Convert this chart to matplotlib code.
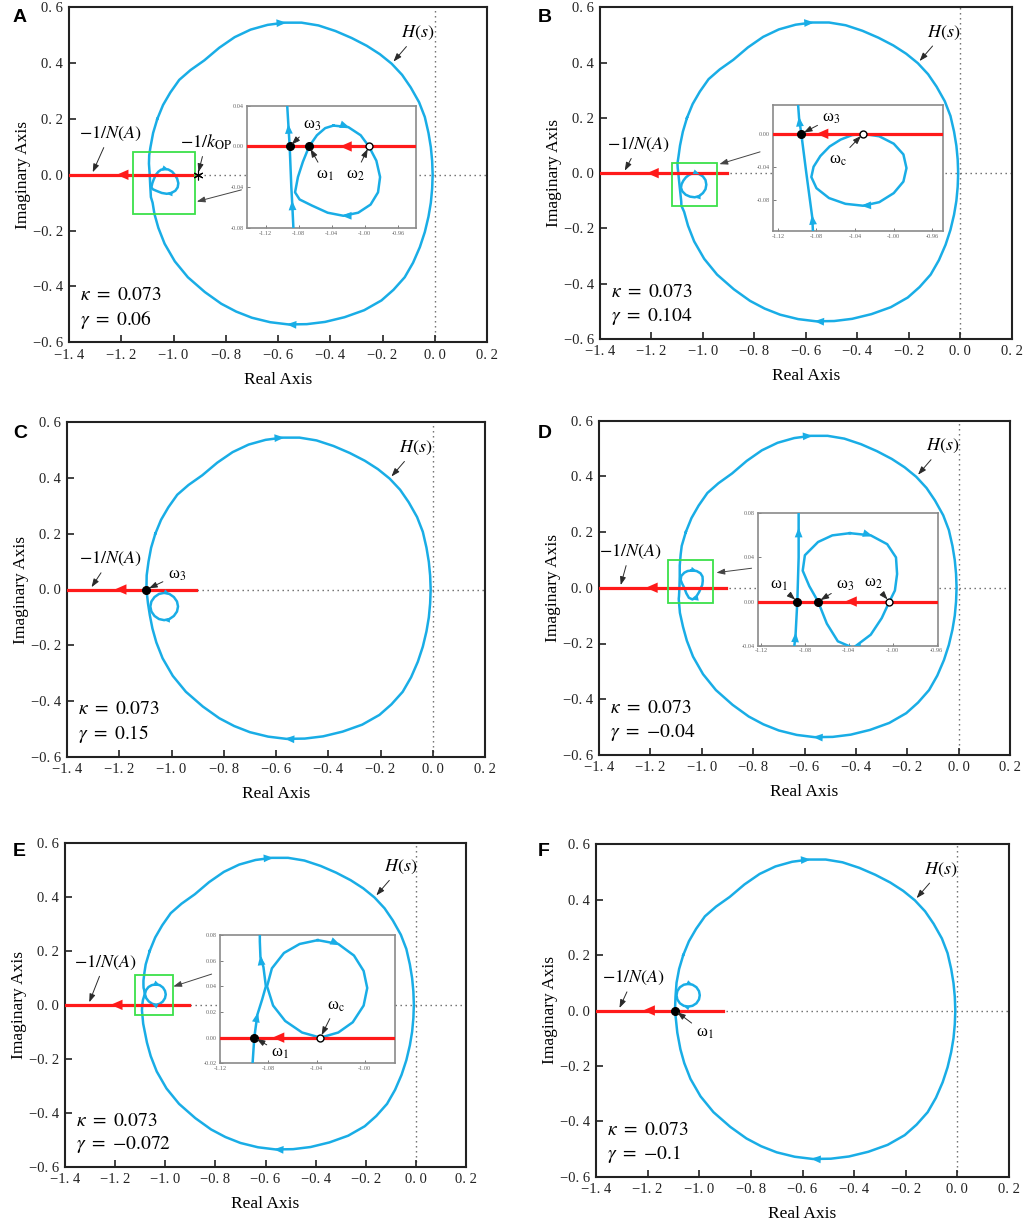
import matplotlib
matplotlib.use("Agg")
import matplotlib.pyplot as plt
from matplotlib.patches import Rectangle, FancyArrowPatch

plt.rcParams['font.family'] = 'Liberation Serif'
plt.rcParams['mathtext.fontset'] = 'stix'
plt.rcParams['axes.unicode_minus'] = True

# ======================= DATA =======================
panel_ids = ['A', 'B', 'C', 'D', 'E', 'F']
kappa_vals = [0.073, 0.073, 0.073, 0.073, 0.073, 0.073]
gamma_vals = ['0.06', '0.104', '0.15', '-0.04', '-0.072', '-0.1']

x_ticks = [-1.4, -1.2, -1.0, -0.8, -0.6, -0.4, -0.2, 0.0, 0.2]
x_tick_labels = ['\u22121. 4', '\u22121. 2', '\u22121. 0', '\u22120. 8', '\u22120. 6',
                 '\u22120. 4', '\u22120. 2', '0. 0', '0. 2']
y_ticks = [-0.6, -0.4, -0.2, 0.0, 0.2, 0.4, 0.6]
y_tick_labels = ['\u22120. 6', '\u22120. 4', '\u22120. 2', '0. 0', '0. 2', '0. 4', '0. 6']

# outer branch of H(s) (shared by all panels), clockwise from upper-left
outer_re = [-1.062, -1.040, -1.012, -0.978, -0.935, -0.882, -0.825, -0.766, -0.705, -0.640,
            -0.575, -0.510, -0.445, -0.380, -0.318, -0.260, -0.210, -0.165, -0.125, -0.092,
            -0.060, -0.038, -0.024, -0.015, -0.010, -0.008, -0.010, -0.015, -0.024, -0.038,
            -0.057, -0.083, -0.115, -0.158, -0.204, -0.270, -0.345, -0.420, -0.490, -0.560,
            -0.630, -0.700, -0.760, -0.817, -0.880, -0.945, -0.995, -1.034, -1.058]
outer_im = [0.200, 0.250, 0.295, 0.340, 0.375, 0.410, 0.455, 0.493, 0.520, 0.537,
            0.545, 0.545, 0.535, 0.515, 0.490, 0.462, 0.432, 0.398, 0.358, 0.313,
            0.260, 0.207, 0.150, 0.099, 0.050, 0.000, -0.050, -0.100, -0.150, -0.205,
            -0.259, -0.315, -0.367, -0.412, -0.450, -0.485, -0.510, -0.527, -0.535, -0.536,
            -0.528, -0.512, -0.490, -0.462, -0.420, -0.367, -0.310, -0.247, -0.190]

# describing-function locus -1/N(A) and -1/k_OP
dfn_re = [-0.907, -1.40]
dfn_im = [0.0, 0.0]
kop_re = [-0.907]
kop_im = [0.0]

# near-critical part of H(s) for each panel (bottom -> top)
left_A_re = [-1.073, -1.080, -1.0865, -1.088, -1.089, -1.091, -1.0925, -1.094, -1.093, -1.088, -1.078]
left_A_im = [-0.14, -0.10, -0.08, -0.055, -0.04, 0.0, 0.02, 0.04, 0.07, 0.10, 0.15]
left_B_re = [-1.073, -1.0837, -1.0843, -1.0905, -1.0957, -1.098, -1.099, -1.095, -1.089, -1.078]
left_B_im = [-0.14, -0.1176, -0.102, -0.0477, 0.0, 0.019, 0.035, 0.06, 0.10, 0.15]
left_C_re = [-1.073, -1.083, -1.090, -1.096, -1.095, -1.088, -1.078]
left_C_im = [-0.14, -0.092, -0.05, 0.0, 0.051, 0.10, 0.15]
left_D_re = [-1.073, -1.085, -1.0896, -1.0885, -1.0869, -1.0857, -1.0857, -1.0857, -1.082, -1.078]
left_D_im = [-0.14, -0.09, -0.04, -0.03, 0.0, 0.04, 0.065, 0.08, 0.12, 0.15]
left_E_re = [-1.073, -1.088, -1.093, -1.0916, -1.089, -1.085, -1.082, -1.084, -1.0865, -1.087, -1.087, -1.083, -1.078]
left_E_im = [-0.14, -0.07, -0.02, 0.0, 0.018, 0.03, 0.04, 0.055, 0.063, 0.075, 0.09, 0.12, 0.15]
left_F_re = [-1.073, -1.085, -1.094, -1.092, -1.088, -1.078]
left_F_im = [-0.14, -0.08, 0.0, 0.05, 0.10, 0.15]

# small loops of H(s) (clockwise, from the top)
loop_A_re = [-1.038, -1.020, -1.005, -0.995, -0.986, -0.9815, -0.984, -0.993, -1.008, -1.026,
             -1.045, -1.064, -1.079, -1.0845, -1.081, -1.075, -1.0675, -1.058, -1.048, -1.038]
loop_A_im = [0.0205, 0.019, 0.011, 0.0, -0.014, -0.030, -0.045, -0.057, -0.065, -0.068,
             -0.065, -0.058, -0.052, -0.045, -0.030, -0.015, 0.0, 0.011, 0.018, 0.0205]
loop_B_re = [-1.0318, -1.015, -1.000, -0.990, -0.9868, -0.990, -1.000, -1.015, -1.0318, -1.050,
             -1.067, -1.080, -1.0853, -1.083, -1.076, -1.0664, -1.055, -1.043, -1.0318]
loop_B_im = [0.0, -0.003, -0.012, -0.025, -0.0416, -0.058, -0.072, -0.083, -0.0873, -0.085,
             -0.078, -0.066, -0.0525, -0.040, -0.027, -0.0154, -0.007, -0.0015, 0.0]
loop_C_re = [-1.028, -1.008, -0.991, -0.979, -0.975, -0.979, -0.991, -1.008, -1.028,
             -1.048, -1.065, -1.077, -1.081, -1.077, -1.065, -1.048, -1.028]
loop_C_im = [-0.012, -0.016, -0.027, -0.043, -0.061, -0.079, -0.095, -0.106, -0.110,
             -0.106, -0.095, -0.079, -0.061, -0.043, -0.027, -0.016, -0.012]
loop_D_re = [-1.039, -1.020, -1.005, -0.997, -0.996, -0.998, -1.003, -1.010, -1.020, -1.036,
             -1.050, -1.060, -1.068, -1.076, -1.082, -1.080, -1.068, -1.055, -1.039]
loop_D_im = [0.062, 0.060, 0.052, 0.040, 0.025, 0.010, 0.0, -0.015, -0.030, -0.042,
             -0.036, -0.020, 0.0, 0.014, 0.028, 0.042, 0.054, 0.060, 0.062]
loop_E_re = [-1.039, -1.022, -1.009, -1.001, -0.998, -1.001, -1.010, -1.022, -1.0368,
             -1.052, -1.066, -1.076, -1.081, -1.077, -1.067, -1.054, -1.039]
loop_E_im = [0.076, 0.073, 0.064, 0.052, 0.0387, 0.025, 0.012, 0.004, 0.0,
             0.004, 0.013, 0.025, 0.040, 0.054, 0.066, 0.073, 0.076]
loop_F_re = [-1.043, -1.026, -1.011, -1.001, -0.998, -1.001, -1.011, -1.026, -1.043,
             -1.060, -1.075, -1.085, -1.088, -1.085, -1.075, -1.060, -1.043]
loop_F_im = [0.096, 0.093, 0.084, 0.070, 0.055, 0.040, 0.026, 0.017, 0.014,
             0.017, 0.026, 0.040, 0.055, 0.070, 0.084, 0.093, 0.096]

# intersection frequencies on the real axis
omega_A_re = [-1.091, -1.0675, -0.995]
omega_A_lab = ['\u03c9$_3$', '\u03c9$_1$', '\u03c9$_2$']
omega_A_open = [False, False, True]
omega_B_re = [-1.0957, -1.0318]
omega_B_lab = ['\u03c9$_3$', '\u03c9$_\\mathrm{c}$']
omega_B_open = [False, True]
omega_C_re = [-1.096]
omega_C_lab = ['\u03c9$_3$']
omega_C_open = [False]
omega_D_re = [-1.0869, -1.068, -1.003]
omega_D_lab = ['\u03c9$_1$', '\u03c9$_3$', '\u03c9$_2$']
omega_D_open = [False, False, True]
omega_E_re = [-1.0916, -1.0368]
omega_E_lab = ['\u03c9$_1$', '\u03c9$_\\mathrm{c}$']
omega_E_open = [False, True]
omega_F_re = [-1.094]
omega_F_lab = ['\u03c9$_1$']
omega_F_open = [False]

inset_xt_main = [-1.12, -1.08, -1.04, -1.00, -0.96]
inset_xt_E = [-1.12, -1.08, -1.04, -1.00]
inset_yt_A = [-0.08, -0.04, 0.0, 0.04]
inset_yt_B = [-0.08, -0.04, 0.0]
inset_yt_D = [-0.04, 0.0, 0.04, 0.08]
inset_yt_E = [-0.02, 0.0, 0.02, 0.04, 0.06, 0.08]

# ======================= LAYOUT / STYLE =======================
W, H = 1024.0, 1226.0
BLUE = '#19ADE6'
RED = '#FF1A1A'
GREEN = '#3CE04A'
GRAYF = '#8a8a8a'

cfg = {
    'A': dict(px=(69, 487, 7.3, 342.3), letter=(13, 18),
              left=(left_A_re, left_A_im), loop=(loop_A_re, loop_A_im), loop_heads=(1, 9),
              om=(omega_A_re, omega_A_lab, omega_A_open),
              om_off=[(15.9, 15.6), (11.5, -20.4), (-10, -20.4)], om_main=False, kop=True,
              na=(0.054, (13.2, 29.5)),
              inset=dict(px=(247, 416, 105.7, 228), xlim=(-1.1427, -0.938), ylim=(-0.08, 0.04),
                         xt=inset_xt_main, yt=inset_yt_A, loop_heads=(1, 9), left_heads=(3, 6),
                         red=0.55),
              green=(-1.155, -0.918, -0.14, 0.083),
              conn=((-0.74, -0.054), (-0.911, -0.096))),
    'B': dict(px=(600, 1011.7, 7.3, 339), letter=(538, 18),
              left=(left_B_re, left_B_im), loop=(loop_B_re, loop_B_im), loop_heads=(1, 8),
              om=(omega_B_re, omega_B_lab, omega_B_open),
              om_off=[(21.6, 11.3), (-18, -18.7)], om_main=False, kop=False,
              na=(0.057, (10.8, 20.4)),
              inset=dict(px=(773, 943, 105, 231), xlim=(-1.125, -0.949), ylim=(-0.118, 0.035),
                         xt=inset_xt_main, yt=inset_yt_B, loop_heads=(8,), left_heads=(2, 5),
                         red=0.256),
              green=(-1.121, -0.944, -0.119, 0.035),
              conn=((-0.778, 0.077), (-0.936, 0.0325))),
    'C': dict(px=(67, 485, 422.3, 756.7), letter=(13, 433),
              left=(left_C_re, left_C_im), loop=(loop_C_re, loop_C_im), loop_heads=(1, 8),
              om=(omega_C_re, omega_C_lab, omega_C_open),
              om_off=[(21.8, 10.3)], om_main=True, kop=False,
              na=(0.055, (14.4, 21.8)), inset=None),
    'D': dict(px=(599, 1010, 420.5, 755), letter=(538, 433),
              left=(left_D_re, left_D_im), loop=(loop_D_re, loop_D_im), loop_heads=(1, 9),
              om=(omega_D_re, omega_D_lab, omega_D_open),
              om_off=[(-13.5, 12), (19.4, 11.9), (-11.7, 13.2)], om_main=False, kop=False,
              na=(0.051, (7.2, 25.9)),
              inset=dict(px=(757.7, 937.7, 513.3, 645.7), xlim=(-1.123, -0.959), ylim=(-0.04, 0.08),
                         xt=inset_xt_main, yt=inset_yt_D, loop_heads=(1, 9), left_heads=(3, 6),
                         red=0.485),
              green=(-1.133, -0.957, -0.056, 0.1),
              conn=((-0.806, 0.07), (-0.943, 0.054))),
    'E': dict(px=(65, 466, 843, 1166.7), letter=(13, 851),
              left=(left_E_re, left_E_im), loop=(loop_E_re, loop_E_im), loop_heads=(1, 9),
              om=(omega_E_re, omega_E_lab, omega_E_open),
              om_off=[(18.7, -10.8), (11.3, 22.8)], om_main=False, kop=False,
              na=(0.058, (12.0, 30.5)),
              inset=dict(px=(220, 395, 935, 1063.3), xlim=(-1.12, -0.975), ylim=(-0.02, 0.08),
                         xt=inset_xt_E, yt=inset_yt_E, loop_heads=(1,), left_heads=(4, 8),
                         red=0.30),
              green=(-1.121, -0.97, -0.037, 0.11),
              conn=((-0.815, 0.114), (-0.968, 0.068))),
    'F': dict(px=(596, 1009, 844.3, 1176.7), letter=(538, 851),
              left=(left_F_re, left_F_im), loop=(loop_F_re, loop_F_im), loop_heads=(1, 9),
              om=(omega_F_re, omega_F_lab, omega_F_open),
              om_off=[(21.6, -16.3)], om_main=True, kop=False,
              na=(0.054, (10.8, 23.3)), inset=None),
}

OUTER_HEADS = (10, 39)
HS_INDEX = 17
YLABEL_GAP_PX = 46
ANN = dict(arrowstyle='-|>,head_length=0.45,head_width=0.16', color='#2a2a2a', lw=0.7,
           shrinkA=1.5, shrinkB=2.0, mutation_scale=11)


def rect_px(x0, x1, y0, y1):
    return [x0 / W, 1 - y1 / H, (x1 - x0) / W, (y1 - y0) / H]


def head(ax, xs, ys, i, m, color=BLUE):
    dx = xs[i + 1] - xs[i - 1]
    dy = ys[i + 1] - ys[i - 1]
    tail = (xs[i] - 0.3 * dx, ys[i] - 0.3 * dy)
    tip = (xs[i] + 0.05 * dx, ys[i] + 0.05 * dy)
    ax.add_patch(FancyArrowPatch(tail, tip, arrowstyle='-|>,head_length=0.5,head_width=0.2',
                                 mutation_scale=m, color=color, lw=0, shrinkA=0, shrinkB=0,
                                 zorder=6))


def red_head(ax, frac, m):
    ax.add_patch(FancyArrowPatch((frac + 0.05, 0.0), (frac, 0.0),
                                 arrowstyle='-|>,head_length=0.5,head_width=0.22',
                                 mutation_scale=m, color=RED, lw=0, shrinkA=0, shrinkB=0,
                                 transform=ax.get_yaxis_transform(), zorder=6))


def draw_curves(ax, c, lw):
    lre, lim = c['left']
    full_re = outer_re + lre + [outer_re[0]]
    full_im = outer_im + lim + [outer_im[0]]
    ax.plot(full_re, full_im, color=BLUE, lw=lw, zorder=3, solid_joinstyle='round')
    ax.plot(c['loop'][0], c['loop'][1], color=BLUE, lw=lw, zorder=3, solid_joinstyle='round')
    ax.plot(dfn_re, dfn_im, color=RED, lw=lw + 0.5, zorder=4)


def draw_omegas(ax, c):
    ore, olab, oopen = c['om']
    for x, lab, op, off in zip(ore, olab, oopen, c['om_off']):
        if op:
            ax.plot([x], [0.0], 'o', ms=5, mfc='white', mec='black', mew=1.0, zorder=8)
        else:
            ax.plot([x], [0.0], 'o', ms=5.5, color='black', zorder=8)
        ax.annotate(lab, xy=(x, 0.0), xytext=off, textcoords='offset points',
                    ha='center', va='center', fontsize=12, zorder=9, arrowprops=ANN)


fig = plt.figure(figsize=(10.24, 12.26), dpi=100)

for pid, kap, gam in zip(panel_ids, kappa_vals, gamma_vals):
    c = cfg[pid]
    x0, x1, y0, y1 = c['px']
    ax = fig.add_axes(rect_px(*c['px']))
    ax.set_xlim(-1.4, 0.2)
    ax.set_ylim(-0.6, 0.6)
    ax.set_xticks(x_ticks, labels=x_tick_labels)
    ax.set_yticks(y_ticks, labels=y_tick_labels)
    ax.tick_params(direction='in', length=5, width=1.2, top=False, right=False,
                   labelsize=10.5, pad=4.5, colors='#222222')
    for s in ax.spines.values():
        s.set_linewidth(1.5)
        s.set_color('#222222')

    ax.axvline(0.0, color='#666666', lw=1.0, ls=(0, (1, 2.6)), zorder=1)
    ax.axhline(0.0, color='#666666', lw=1.0, ls=(0, (1, 2.6)), zorder=1)
    draw_curves(ax, c, 1.8)

    head(ax, outer_re, outer_im, OUTER_HEADS[0], 14)
    head(ax, outer_re, outer_im, OUTER_HEADS[1], 14)
    for i in c['loop_heads']:
        head(ax, c['loop'][0], c['loop'][1], i, 9)
    red_head(ax, 0.114, 17)

    # labels
    ax.annotate('$H(s)$', xy=(outer_re[HS_INDEX], outer_im[HS_INDEX]), xytext=(19, 22),
                textcoords='offset points', ha='center', va='center', fontsize=13,
                arrowprops=ANN)
    nfrac, noff = c['na']
    ax.annotate('$-1/N(A)$', xy=(nfrac, 0.0), xycoords=ax.get_yaxis_transform(),
                xytext=noff, textcoords='offset points', ha='center', va='center',
                fontsize=13, arrowprops=ANN)
    if c['kop']:
        ax.plot(kop_re, kop_im, marker=(6, 2, 0), ms=7, color='black', mew=0.8,
                ls='none', zorder=8)
        ax.annotate('$-1/k_{\\mathrm{OP}}$', xy=(kop_re[0], kop_im[0]), xytext=(6, 23.6),
                    textcoords='offset points', ha='center', va='center', fontsize=13,
                    arrowprops=ANN)
    if c['om_main']:
        draw_omegas(ax, c)

    ax.text(0.027, 0.14, '$\\kappa\\ =\\ {%s}$' % kap, transform=ax.transAxes,
            ha='left', va='center', fontsize=14)
    ax.text(0.027, 0.068, '$\\gamma\\ =\\ {%s}$' % gam, transform=ax.transAxes,
            ha='left', va='center', fontsize=14)

    aw, ah = x1 - x0, y1 - y0
    ax.text(-YLABEL_GAP_PX / aw, 0.5, 'Imaginary Axis', rotation=90, transform=ax.transAxes,
            ha='center', va='center', fontsize=12.5)
    ax.text(0.5, -37.5 / ah, 'Real Axis', transform=ax.transAxes,
            ha='center', va='center', fontsize=12.5)
    fig.text(c['letter'][0] / W, 1 - c['letter'][1] / H, pid, family='Liberation Sans',
             fontweight='bold', fontsize=14, ha='left', va='center')

    ins = c['inset']
    if ins is not None:
        gx0, gx1, gy0, gy1 = c['green']
        ax.add_patch(Rectangle((gx0, gy0), gx1 - gx0, gy1 - gy0, fill=False,
                               edgecolor=GREEN, lw=1.3, zorder=7))
        (tx, ty), (hx, hy) = c['conn']
        ax.annotate('', xy=(hx, hy), xytext=(tx, ty),
                    arrowprops=dict(arrowstyle='-|>,head_length=0.45,head_width=0.16',
                                    color='#444444', lw=0.7, shrinkA=0, shrinkB=0,
                                    mutation_scale=11))

        axi = fig.add_axes(rect_px(*ins['px']))
        axi.set_xlim(*ins['xlim'])
        axi.set_ylim(*ins['ylim'])
        axi.set_xticks(ins['xt'], labels=['%.2f' % v for v in ins['xt']])
        axi.set_yticks(ins['yt'], labels=['%.2f' % v for v in ins['yt']])
        axi.tick_params(direction='in', length=2, width=0.6, labelsize=4.5, pad=2,
                        colors='#666666')
        for s in axi.spines.values():
            s.set_linewidth(1.2)
            s.set_color(GRAYF)
        draw_curves(axi, c, 1.8)
        lre, lim = c['left']
        for i in ins['left_heads']:
            head(axi, lre, lim, i, 14)
        for i in ins['loop_heads']:
            head(axi, c['loop'][0], c['loop'][1], i, 14)
        red_head(axi, ins['red'], 17)
        draw_omegas(axi, c)

fig.savefig('out.png', dpi=100)
